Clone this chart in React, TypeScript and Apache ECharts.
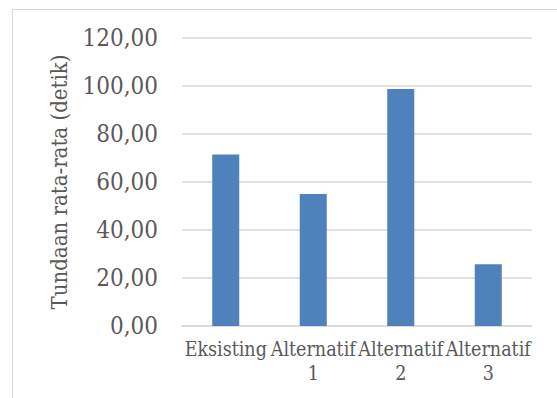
import React, { useEffect, useRef } from "react";
import * as echarts from "echarts";

const categories = ["Eksisting", "Alternatif\n1", "Alternatif\n2", "Alternatif\n3"];
const delayValues = [71.5, 55.0, 98.75, 25.7];
const yTicks = { min: 0, max: 120, interval: 20 };

const FONT = "DejaVu Serif Condensed";
const TEXT = "#595959";
const GRID = "#D9D9D9";

export default function App() {
  const ref = useRef<HTMLDivElement>(null);

  useEffect(() => {
    if (!ref.current) return;
    const chart = echarts.init(ref.current, undefined, { renderer: "svg" });
    chart.setOption({
      animation: false,
      backgroundColor: "#ffffff",
      textStyle: { fontFamily: FONT },
      graphic: [
        {
          type: "rect",
          shape: { x: 12.5, y: 9.5, width: 700, height: 600 },
          style: { fill: "none", stroke: GRID, lineWidth: 1 },
          silent: true,
        },
      ],
      grid: { left: 182, right: 25, top: 38, bottom: 72, containLabel: false },
      xAxis: {
        type: "category",
        data: categories,
        axisLine: { show: true, lineStyle: { color: GRID, width: 1.5 } },
        axisTick: { show: false },
        axisLabel: {
          color: TEXT,
          fontFamily: FONT,
          fontSize: 19.5,
          lineHeight: 24,
          margin: 11,
          interval: 0,
        },
      },
      yAxis: {
        type: "value",
        min: yTicks.min,
        max: yTicks.max,
        interval: yTicks.interval,
        name: "Tundaan rata-rata (detik)",
        nameLocation: "middle",
        nameGap: 112,
        nameTextStyle: { color: TEXT, fontFamily: FONT, fontSize: 22 },
        axisLine: { show: false },
        axisTick: { show: false },
        splitLine: { lineStyle: { color: GRID, width: 1.5 } },
        axisLabel: {
          color: TEXT,
          fontFamily: FONT,
          fontSize: 24,
          margin: 24,
          formatter: (v: number) => v.toFixed(2).replace(".", ","),
        },
      },
      series: [
        {
          type: "bar",
          data: delayValues,
          barWidth: 27,
          itemStyle: { color: "#4F81BD" },
        },
      ],
    });
    return () => chart.dispose();
  }, []);

  return (
    <div
      ref={ref}
      style={{ position: "fixed", left: 0, top: 0, width: 557, height: 398 }}
    />
  );
}
